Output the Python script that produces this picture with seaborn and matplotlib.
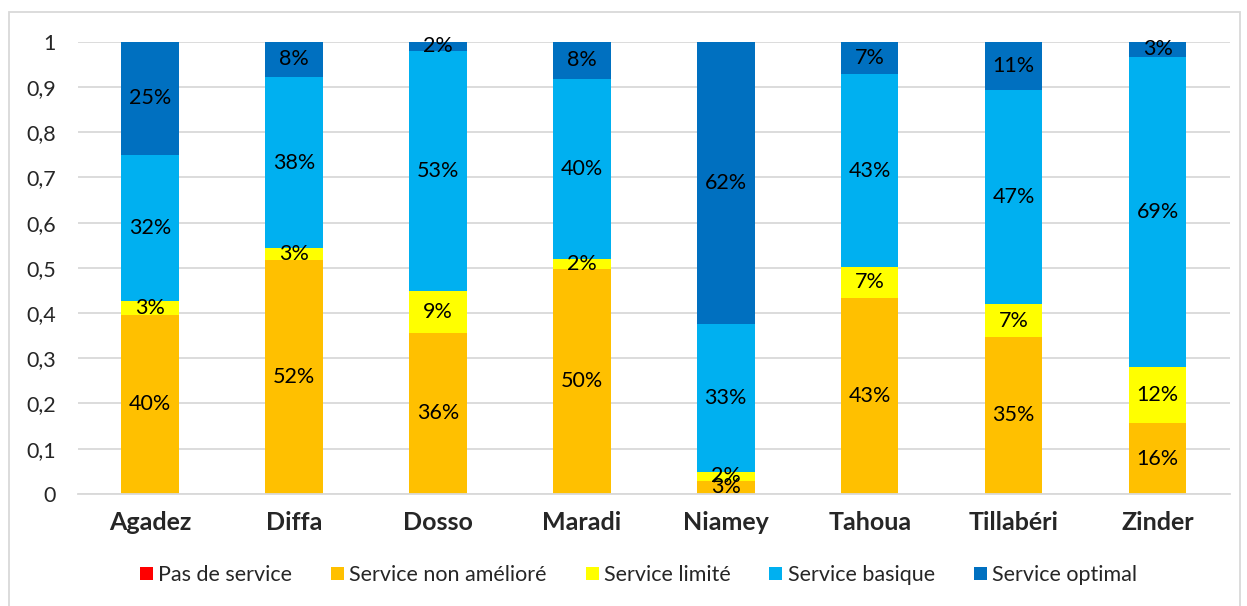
import matplotlib
matplotlib.use("Agg")
import matplotlib.pyplot as plt
import seaborn as sns
import numpy as np
import pandas as pd
from matplotlib.patches import Rectangle, Patch

regions = ["Agadez", "Diffa", "Dosso", "Maradi", "Niamey", "Tahoua", "Tillabéri", "Zinder"]
series = ["Pas de service", "Service non amélioré", "Service limité", "Service basique", "Service optimal"]
pas_de_service = [0, 0, 0, 0, 0, 0, 0, 0]
non_ameliore = [0.396, 0.518, 0.356, 0.498, 0.029, 0.434, 0.347, 0.156]
limite = [0.031, 0.026, 0.093, 0.022, 0.020, 0.068, 0.073, 0.124]
basique = [0.323, 0.378, 0.531, 0.398, 0.327, 0.426, 0.473, 0.687]
optimal = [0.250, 0.078, 0.020, 0.082, 0.624, 0.072, 0.107, 0.033]
colors = ["#FF0000", "#FFC000", "#FFFF00", "#00B0F0", "#0070C0"]
yticks = [0, 0.1, 0.2, 0.3, 0.4, 0.5, 0.6, 0.7, 0.8, 0.9, 1]
ytick_labels = ["0", "0,1", "0,2", "0,3", "0,4", "0,5", "0,6", "0,7", "0,8", "0,9", "1"]

sns.set_theme(style="white")
plt.rcParams["font.family"] = ["Lato", "DejaVu Sans"]

data = np.array([pas_de_service, non_ameliore, limite, basique, optimal])
cum = np.cumsum(data, axis=0)

fig = plt.figure(figsize=(12.47, 6.06), dpi=100)
ax = fig.add_axes([0.0626, 0.185, 0.9234, 0.746])

# draw from top layer down (overlay cumulative totals)
for k in range(len(series) - 1, -1, -1):
    df = pd.DataFrame({"region": regions, "value": cum[k]})
    sns.barplot(data=df, x="region", y="value", color=colors[k], width=0.4,
                saturation=1, ax=ax, zorder=2, linewidth=0)

# labels
for k in range(1, len(series)):
    for i in range(len(regions)):
        v = data[k, i]
        if v <= 0:
            continue
        bottom = cum[k, i] - v
        ax.text(i, bottom + v / 2, f"{v*100:.0f}%", ha="center", va="center",
                fontsize=15.5, color="black", zorder=5)

ax.set_ylim(0, 1)
ax.set_xlim(-0.5, len(regions) - 0.5)
ax.set_yticks(yticks)
ax.set_yticklabels(ytick_labels, fontsize=15.5)
ax.set_xlabel("")
ax.set_ylabel("")
for lbl in ax.get_xticklabels():
    lbl.set_fontweight("bold")
    lbl.set_fontsize(18)
ax.tick_params(axis="x", pad=12, length=0)
ax.tick_params(axis="y", pad=16, length=0)
ax.yaxis.grid(True, color="#d9d9d9", linewidth=1.3, zorder=0)
ax.set_axisbelow(True)
for s in ["top", "right", "left"]:
    ax.spines[s].set_visible(False)
ax.spines["bottom"].set_color("#d9d9d9")
ax.spines["bottom"].set_linewidth(1.3)

handles = [Patch(facecolor=c, edgecolor="none") for c in colors]
fig.legend(handles, series, loc="center", bbox_to_anchor=(0.512, 0.051), ncol=5,
           frameon=False, fontsize=15.5, handlelength=0.6, handleheight=0.6,
           handletextpad=0.25, columnspacing=1.8)

fig.patches.append(Rectangle((9 / 1247, -0.01), (1240 - 9) / 1247, 1 - 12 / 606 + 0.01,
                             transform=fig.transFigure, fill=False,
                             edgecolor="#d9d9d9", linewidth=1.3))

fig.savefig("out.png", dpi=100)
